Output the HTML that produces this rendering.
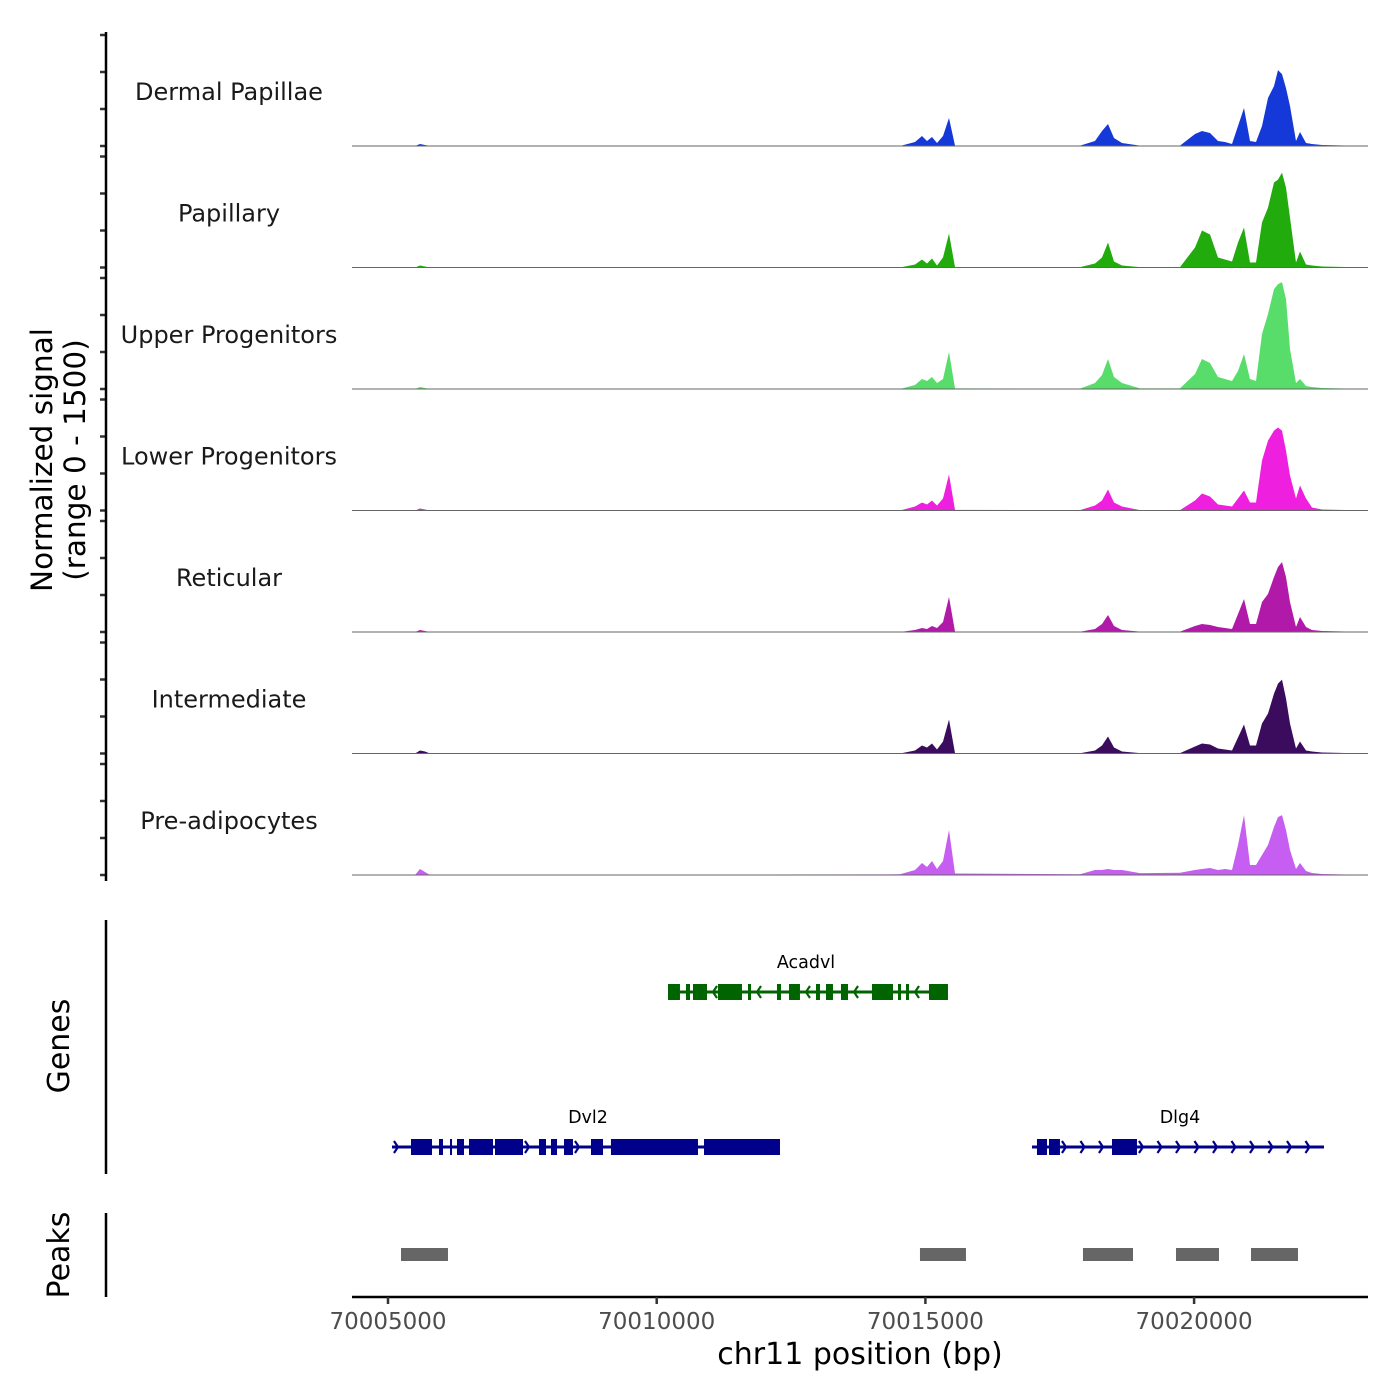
<!DOCTYPE html>
<html><head><meta charset="utf-8"><style>
html,body{margin:0;padding:0;background:#fff;}
svg{display:block;font-family:"DejaVu Sans","Liberation Sans",sans-serif;}
</style></head><body>
<svg id="chart" width="1400" height="1400" viewBox="0 0 1400 1400" xmlns="http://www.w3.org/2000/svg">
<rect width="1400" height="1400" fill="#fff"/>
<g id="tracks"></g>
<g id="genes"></g>
<g id="peaks"></g>
<g id="axes"></g>
<text x="0" y="0" transform="translate(52,460) rotate(-90)" text-anchor="middle" font-size="29.5" fill="#000">Normalized signal</text>
<text x="0" y="0" transform="translate(85,460) rotate(-90)" text-anchor="middle" font-size="29.5" fill="#000">(range 0 - 1500)</text>
<text x="0" y="0" transform="translate(69,1046) rotate(-90)" text-anchor="middle" font-size="30" fill="#000">Genes</text>
<text x="0" y="0" transform="translate(69,1255) rotate(-90)" text-anchor="middle" font-size="30" fill="#000">Peaks</text>
<text x="860" y="1364" text-anchor="middle" font-size="30" fill="#000">chr11 position (bp)</text>
</svg>
<script>
const NS = "http://www.w3.org/2000/svg";
const xTicks = [70005000, 70010000, 70015000, 70020000];
const tickLabels = ["70005000", "70010000", "70015000", "70020000"];
const trackNames = ["Dermal Papillae","Papillary","Upper Progenitors","Lower Progenitors","Reticular","Intermediate","Pre-adipocytes"];
const trackColors = ["#1539d8","#21ab0c","#58dd6b","#ef1fe0","#b119a9","#3b0b5d","#c55ef1"];
const positions = [70004330,70005502,70005595,70005688,70005781,70014527,70014806,70014937,70015030,70015123,70015216,70015327,70015439,70015551,70017877,70018156,70018286,70018398,70018509,70018658,70018993,70019737,70020017,70020147,70020296,70020445,70020575,70020705,70020817,70020928,70021040,70021152,70021263,70021375,70021487,70021561,70021635,70021710,70021784,70021896,70021970,70022082,70022194,70022380,70023236];
const sigDermal = [0,0,27,14,0,0,54,135,68,122,41,135,378,5,5,68,203,297,108,41,5,5,162,203,176,68,54,27,270,513,68,54,270,648,810,1026,972,783,540,68,189,41,27,14,0];
const sigPapillary = [0,0,27,14,0,0,41,108,54,122,27,135,459,5,5,54,135,338,81,27,5,5,270,500,446,135,108,81,338,540,68,68,608,810,1148,1188,1283,1080,675,68,216,41,27,14,0];
const sigUpper = [0,0,27,14,0,0,54,135,108,162,81,135,500,8,5,81,189,405,162,81,8,8,203,405,351,162,135,108,243,473,135,108,743,1013,1350,1418,1445,1215,540,81,135,41,27,14,0];
const sigLower = [0,0,27,14,0,0,54,108,81,135,68,162,486,8,5,68,135,284,108,54,5,5,135,230,189,81,68,54,162,270,108,108,675,945,1080,1121,1080,810,473,162,338,162,41,14,0];
const sigReticular = [0,0,27,14,0,0,27,54,41,81,54,135,473,5,3,41,108,230,81,27,5,5,81,108,95,68,54,41,243,446,108,108,405,513,743,878,945,743,405,68,203,68,27,14,0];
const sigIntermediate = [0,0,41,27,0,0,41,108,81,135,54,162,459,5,3,41,108,230,81,27,5,5,95,135,122,68,54,41,216,392,108,108,405,540,810,945,999,743,405,68,162,41,27,14,0];
const sigPre = [0,0,81,41,0,10,68,162,108,189,81,189,608,20,10,68,68,81,68,68,25,30,68,81,95,68,81,68,405,810,135,135,270,405,648,783,810,608,338,81,162,54,27,14,0];
const yTicks = [0,500,1000,1500];
const acadvlExons = [[70010210,70010433],[70010545,70010620],[70010675,70010936],[70011141,70011587],[70011699,70011755],[70012238,70012313],[70012462,70012666],[70012964,70013039],[70013150,70013280],[70013429,70013560],[70014006,70014397],[70014490,70014546],[70014639,70014695],[70015067,70015420]];
const dvl2Exons = [[70005428,70005819],[70005949,70006023],[70006154,70006191],[70006284,70006414],[70006507,70006954],[70006991,70007512],[70007810,70007940],[70008033,70008145],[70008275,70008442],[70008777,70009001],[70009149,70010768],[70010880,70012294]];
const dlg4Exons = [[70017076,70017263],[70017300,70017504],[70018472,70018937]];
const peakStarts = [70005242,70014899,70017932,70019663,70021059];
const peakEnds = [70006116,70015755,70018863,70020463,70021933];

const X0 = 352, X1 = 1368, D0 = 70004330, D1 = 70023236;
function xs(bp){ return X0 + (bp - D0) / (D1 - D0) * (X1 - X0); }
const base0 = 146, trackStep = 121.5, trackH = 111, YMAX = 1500;
function ys(v, base){ return base - v / YMAX * trackH; }
const signals = [sigDermal, sigPapillary, sigUpper, sigLower, sigReticular, sigIntermediate, sigPre];

function mk(tag, attrs, parent){ const e = document.createElementNS(NS, tag); for (const k in attrs) e.setAttribute(k, attrs[k]); parent.appendChild(e); return e; }

const tracks = document.getElementById('tracks');
const axes = document.getElementById('axes');
signals.forEach((sig, i) => {
  const base = base0 + i * trackStep;
  let d = `M${xs(positions[0])},${base}`;
  positions.forEach((p, j) => { d += ` L${xs(p).toFixed(1)},${ys(sig[j], base).toFixed(1)}`; });
  d += ` L${xs(positions[positions.length-1])},${base} Z`;
  const area = mk('path', {d: d, fill: trackColors[i], stroke: 'none'}, tracks);
  
  
  const bl = mk('line', {x1: X0, x2: X1, y1: base, y2: base, stroke: '#666', 'stroke-width': 1}, tracks);
  
  
  const lbl = mk('text', {x: 229, y: base - 46, 'text-anchor': 'middle', 'font-size': 24, fill: '#1a1a1a'}, tracks);
  lbl.textContent = trackNames[i];
  
  
  yTicks.forEach(t => {
    const tk = mk('line', {x1: 100, x2: 106, y1: ys(t, base), y2: ys(t, base), stroke: '#333', 'stroke-width': 2.5}, axes);
    
    
  });
});
const ya = mk('line', {x1: 106, x2: 106, y1: 32, y2: 881, stroke: '#000', 'stroke-width': 2.5}, axes);


const ga = mk('line', {x1: 106, x2: 106, y1: 920, y2: 1174, stroke: '#000', 'stroke-width': 2.5}, axes);


const pa = mk('line', {x1: 106, x2: 106, y1: 1213, y2: 1297, stroke: '#000', 'stroke-width': 2.5}, axes);


const xa = mk('line', {x1: X0, x2: X1, y1: 1297, y2: 1297, stroke: '#000', 'stroke-width': 2.5}, axes);


xTicks.forEach((t, i) => {
  const tk = mk('line', {x1: xs(t), x2: xs(t), y1: 1297, y2: 1304, stroke: '#333', 'stroke-width': 2.5}, axes);
  
  
  const tl = mk('text', {x: xs(t), y: 1329, 'text-anchor': 'middle', 'font-size': 23, fill: '#4d4d4d'}, axes);
  tl.textContent = tickLabels[i];
  
  
});

const genes = document.getElementById('genes');
function drawGene(name, exons, start, end, y, color, strand, labelX){
  const g = mk('g', {}, genes);
  
  
  mk('line', {x1: xs(start), x2: xs(end), y1: y, y2: y, stroke: color, 'stroke-width': 3}, g);
  let prev = start;
  const bounds = exons.concat([[end, end]]);
  bounds.forEach(ex => {
    const a = xs(prev), b = xs(ex[0]);
    for (let c = a + 6; c < b - 4; c += 18.5) {
      const dx = strand > 0 ? -4 : 4;
      mk('path', {d: `M${c+dx},${y-6} L${c},${y} L${c+dx},${y+6}`, fill: 'none', stroke: color, 'stroke-width': 2.2}, g);
    }
    prev = ex[1];
  });
  exons.forEach(ex => {
    mk('rect', {x: xs(ex[0]), y: y - 8, width: Math.max(2, xs(ex[1]) - xs(ex[0])), height: 16, fill: color}, g);
  });
  const t = mk('text', {x: labelX, y: y - 24, 'text-anchor': 'middle', 'font-size': 17.5, fill: '#000'}, g);
  t.textContent = name;
}
drawGene('Acadvl', acadvlExons, 70010210, 70015420, 992, '#006400', -1, 806);
drawGene('Dvl2', dvl2Exons, 70005074, 70012294, 1147, '#00008b', 1, 588);
drawGene('Dlg4', dlg4Exons, 70016983, 70022417, 1147, '#00008b', 1, 1180);

const peaks = document.getElementById('peaks');
peakStarts.forEach((s, i) => {
  const r = mk('rect', {x: xs(s), y: 1248, width: xs(peakEnds[i]) - xs(s), height: 13, fill: '#666'}, peaks);
  
  
});
</script>
</body></html>
